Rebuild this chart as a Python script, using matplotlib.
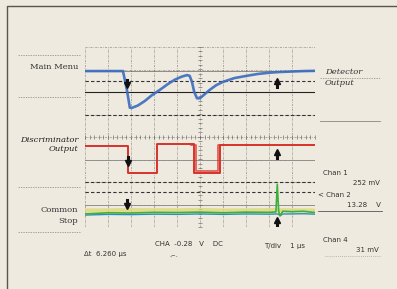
import numpy as np
import matplotlib
matplotlib.use("Agg")
import matplotlib.pyplot as plt

# scope traces, time in us (1 us/div), amplitude in divisions
blue_t = [0.0, 1.65, 1.72, 1.82, 1.95, 2.05, 2.3, 2.6, 2.9, 3.26, 3.6, 3.91, 4.2, 4.43, 4.55, 4.65, 4.75, 4.87, 5.0,
          5.2, 5.43, 5.7, 6.0, 6.5, 7.04, 7.5, 8.04, 8.5, 9.0, 9.5, 10.0]
blue_v = [2.93, 2.93, 2.6, 2.1, 1.3, 1.3, 1.4, 1.6, 1.85, 2.1, 2.35, 2.55, 2.68, 2.75, 2.72, 2.45, 2.0, 1.72, 1.72,
          1.9, 2.1, 2.3, 2.45, 2.62, 2.72, 2.8, 2.86, 2.89, 2.91, 2.93, 2.94]
red_t = [0.0, 1.87, 1.87, 3.13, 3.13, 4.74, 4.74, 5.87, 5.87, 10.0]
red_v = [-0.38, -0.38, -1.6, -1.6, -0.32, -0.32, -1.6, -1.6, -0.36, -0.36]
red2_t = [4.6, 4.83, 4.83, 5.8, 5.8, 6.1]
red2_v = [-0.34, -0.34, -1.52, -1.52, -0.34, -0.34]
green_t = [0.0, 1.0, 2.0, 3.0, 4.0, 5.0, 6.0, 7.0, 8.0, 8.3, 8.36, 8.42, 8.48, 8.6, 9.0, 9.5, 10.0]
green_v = [-3.42, -3.37, -3.38, -3.35, -3.36, -3.34, -3.37, -3.34, -3.35, -3.33, -2.1, -3.3, -3.5, -3.3, -3.32, -3.3, -3.36]
cyan_v = [-3.47, -3.44, -3.45, -3.43, -3.44, -3.42, -3.44, -3.42, -3.43, -3.42, -3.42, -3.44, -3.5, -3.42, -3.42, -3.41, -3.43]
yellow_t = [0.0, 2.0, 4.0, 5.0, 6.0, 8.0, 10.0]
yellow_v = [-3.27, -3.25, -3.26, -3.24, -3.27, -3.25, -3.27]

# cursor arrows (time, level, direction)
arrows = [(1.83, 2.3, 'v'), (8.35, 2.49, '^'), (1.87, -1.16, 'v'),
          (8.35, -0.67, '^'), (1.83, -3.05, 'v'), (8.35, -3.7, '^')]

bg = '#efeae0'
fig = plt.figure(figsize=(3.97, 2.89), dpi=100, facecolor=bg)

# overlay in pixel coords for labels and frame
ov = fig.add_axes([0, 0, 1, 1], facecolor=bg)
ov.set_xlim(0, 397)
ov.set_ylim(289, 0)
ov.axis('off')
ov.plot([7, 7, 397], [289, 6, 6], color='#5a5550', lw=1.0)

serif = 'DejaVu Serif'
lc = '#8a8680'
for y in (55, 97, 187, 232):
    ov.plot([18, 80], [y, y], color=lc, lw=0.5, ls=(0, (2, 1.5)))
ov.plot([320, 380], [78, 78], color=lc, lw=0.5, ls=(0, (2, 1.5)))
ov.plot([320, 380], [121, 121], color=lc, lw=0.6)
ov.plot([318, 382], [211, 211], color='#555', lw=0.6)
ov.plot([325, 380], [256, 256], color=lc, lw=0.5, ls=(0, (1, 2)))

ov.text(78, 67, 'Main Menu', ha='right', va='center', fontsize=6, family=serif, color='#333')
ov.text(78, 140, 'Discriminator', ha='right', va='center', fontsize=6, family=serif, style='italic', color='#222')
ov.text(78, 149, 'Output', ha='right', va='center', fontsize=6, family=serif, style='italic', color='#222')
ov.text(78, 210, 'Common', ha='right', va='center', fontsize=6, family=serif, color='#333')
ov.text(78, 221, 'Stop', ha='right', va='center', fontsize=6, family=serif, color='#333')
ov.text(325, 72, 'Detector', ha='left', va='center', fontsize=6, family=serif, style='italic', color='#333')
ov.text(325, 83, 'Output', ha='left', va='center', fontsize=6, family=serif, style='italic', color='#333')

sc = dict(fontsize=5, color='#333', va='center')
ov.text(323, 173, 'Chan 1', ha='left', **sc)
ov.text(380, 183, '252 mV', ha='right', **sc)
ov.text(318, 195, '< Chan 2', ha='left', **sc)
ov.text(381, 205, '13.28    V', ha='right', **sc)
ov.text(323, 240, 'Chan 4', ha='left', **sc)
ov.text(379, 250, '31 mV', ha='right', **sc)
ov.text(84, 254, 'Δt  6.260 µs', ha='left', **sc)
ov.text(155, 244, 'CHA  -0.28   V    DC', ha='left', **sc)
ov.text(170, 256, '-⌐-', ha='left', fontsize=4, color='#555', va='center')
ov.text(264, 246, 'T/div    1 µs', ha='left', **sc)

# scope screen
ax = fig.add_axes([85 / 397, 62 / 289, 230 / 397, 180 / 289])
ax.set_xlim(0, 10)
ax.set_ylim(-4, 4)
ax.patch.set_alpha(0)
for s in ax.spines.values():
    s.set_visible(False)
ax.set_xticks([])
ax.set_yticks([])

gc = '#4a4744'
for t in range(11):
    ax.axvline(t, color=gc, lw=0.5, ls=(0, (3, 1.5, 1, 1.5)), alpha=0.55)
for v in range(-4, 5):
    ax.axhline(v, color=gc, lw=0.5, ls=(0, (3, 1.5, 1, 1.5)), alpha=0.55)
ax.axhline(2, color='#222', lw=0.8)
ax.axhline(-1, color='#888', lw=0.6)
ax.axhline(-3, color='#888', lw=0.6)
for v in (2.49, 1.0, -2.0, -2.44):
    ax.axhline(v, color='#333', lw=0.8, ls=(0, (3, 2)))
ax.axhline(2.93, color='#666', lw=0.5)

# centre graticule ticks
minor = np.arange(0, 10.01, 0.2)
ax.plot(minor, np.zeros_like(minor), ls='none', marker='|', ms=3, mew=0.5, color='#555', alpha=0.8)
vminor = np.arange(-4, 4.01, 0.2)
ax.plot(np.full_like(vminor, 5.0), vminor, ls='none', marker='_', ms=3, mew=0.5, color='#555', alpha=0.8)

ax.plot(yellow_t, yellow_v, color='#d9d76a', lw=3.0, alpha=0.7, solid_capstyle='butt')
ax.plot(green_t, cyan_v, color='#2a90b8', lw=1.0)
ax.plot(green_t, green_v, color='#3fae3c', lw=1.2)
ax.plot(red_t, red_v, color='#d7322a', lw=1.4)
ax.plot(red2_t, red2_v, color='#d7322a', lw=1.2, alpha=0.8)
ax.plot(blue_t, blue_v, color='#3a6cbf', lw=1.9, alpha=0.9)

for t, v, d in arrows:
    ax.plot([t], [v], marker=d, ms=4, color='#111', ls='none')
    off = 0.25 if d == 'v' else -0.25
    ax.plot([t, t], [v + off, v], color='#111', lw=2.2)

fig.savefig('out.png', dpi=100, facecolor=bg)
